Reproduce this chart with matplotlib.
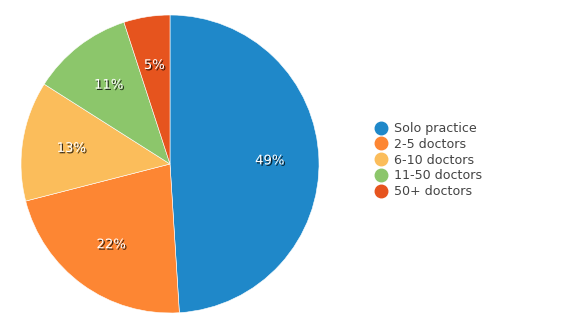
import matplotlib
matplotlib.use("Agg")
import matplotlib.pyplot as plt
import matplotlib.patheffects as pe
from matplotlib.lines import Line2D

labels = ["Solo practice", "2-5 doctors", "6-10 doctors", "11-50 doctors", "50+ doctors"]
shares = [49, 22, 13, 11, 5]
colors = ["#1f88c9", "#fd8633", "#fbbd5b", "#8cc66b", "#e6541e"]

fig = plt.figure(figsize=(5.8, 3.29), dpi=100)
ax = fig.add_axes([21 / 580, 16 / 329, 298 / 580, 298 / 329])

wedges, _, pct = ax.pie(shares, colors=colors, startangle=90, counterclock=False,
                        radius=1.0, autopct="%d%%", pctdistance=0.67,
                        wedgeprops=dict(linewidth=0.4, edgecolor="white"))
ax.set_xlim(-1, 1)
ax.set_ylim(-1, 1)
ax.set_aspect("equal")
ax.axis("off")

# white percent labels with a small dark drop shadow
shadow = [pe.withSimplePatchShadow(offset=(1, -1), shadow_rgbFace="black", alpha=0.75)]
for t in pct:
    t.set_color("white")
    t.set_fontsize(9.5)
    t.set_path_effects(shadow)

handles = [Line2D([0], [0], marker="o", linestyle="", markersize=9,
                  markerfacecolor=c, markeredgecolor=c) for c in colors]
fig.legend(handles, labels, loc="center left", bbox_to_anchor=(368 / 580, 1 - 160 / 329),
           frameon=False, fontsize=9.1, handletextpad=0.45, labelspacing=0.22,
           borderaxespad=0, handlelength=1.2, labelcolor="#444444")

fig.savefig("out.png", dpi=100)
